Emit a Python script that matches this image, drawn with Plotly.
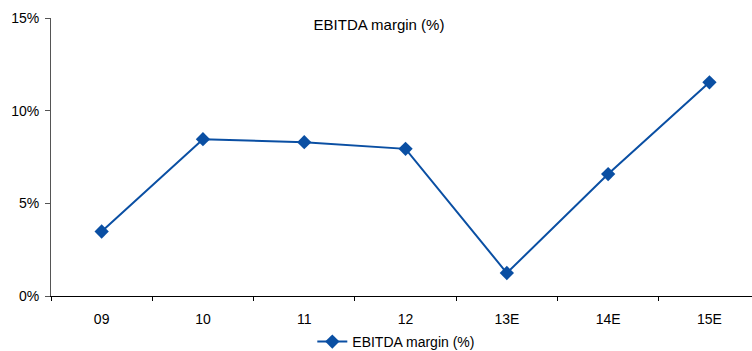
import plotly.graph_objects as go

# EBITDA margin by fiscal year (E = estimate)
years = ["09", "10", "11", "12", "13E", "14E", "15E"]
ebitda_margin = [3.48, 8.46, 8.30, 7.94, 1.24, 6.58, 11.53]
y_ticks = [0, 5, 10, 15]
y_tick_labels = ["0%", "5%", "10%", "15%"]

BLUE = "#0A4FA3"
FONT = "Liberation Sans, Arial, sans-serif"

fig = go.Figure()
fig.add_trace(go.Scatter(
    x=years,
    y=ebitda_margin,
    mode="lines+markers",
    name="EBITDA margin (%)",
    line=dict(color=BLUE, width=2),
    marker=dict(symbol="diamond", size=11, color=BLUE),
))

fig.update_layout(
    width=752,
    height=351,
    margin=dict(l=51, r=0, t=18, b=55, autoexpand=False),
    paper_bgcolor="white",
    plot_bgcolor="white",
    font=dict(family=FONT, size=14, color="#000000"),
    showlegend=True,
    legend=dict(
        orientation="h",
        xref="container", yref="container",
        x=0.527, xanchor="center",
        y=1 - 342 / 351, yanchor="middle",
        font=dict(size=14),
        bgcolor="rgba(0,0,0,0)",
    ),
    title=dict(
        text="EBITDA margin (%)",
        xref="container", yref="container",
        x=0.504, xanchor="center",
        y=1 - 25 / 351, yanchor="middle",
        font=dict(family=FONT, size=15, color="#000000"),
    ),
)

fig.update_xaxes(
    type="category",
    range=[-0.5, 6.42],
    showline=True, linecolor="#000000", linewidth=1,
    ticks="outside", tickson="boundaries", ticklen=4, tickcolor="#000000",
    showgrid=False, zeroline=False,
    tickfont=dict(size=14),
    ticklabelstandoff=10,
)

fig.update_yaxes(
    range=[0, 15],
    tickvals=y_ticks, ticktext=y_tick_labels,
    showline=True, linecolor="#555555", linewidth=1,
    ticks="outside", ticklen=5, tickcolor="#555555",
    showgrid=False, zeroline=False,
    tickfont=dict(size=14),
    ticklabelstandoff=3,
)

fig.write_html("out.html")
